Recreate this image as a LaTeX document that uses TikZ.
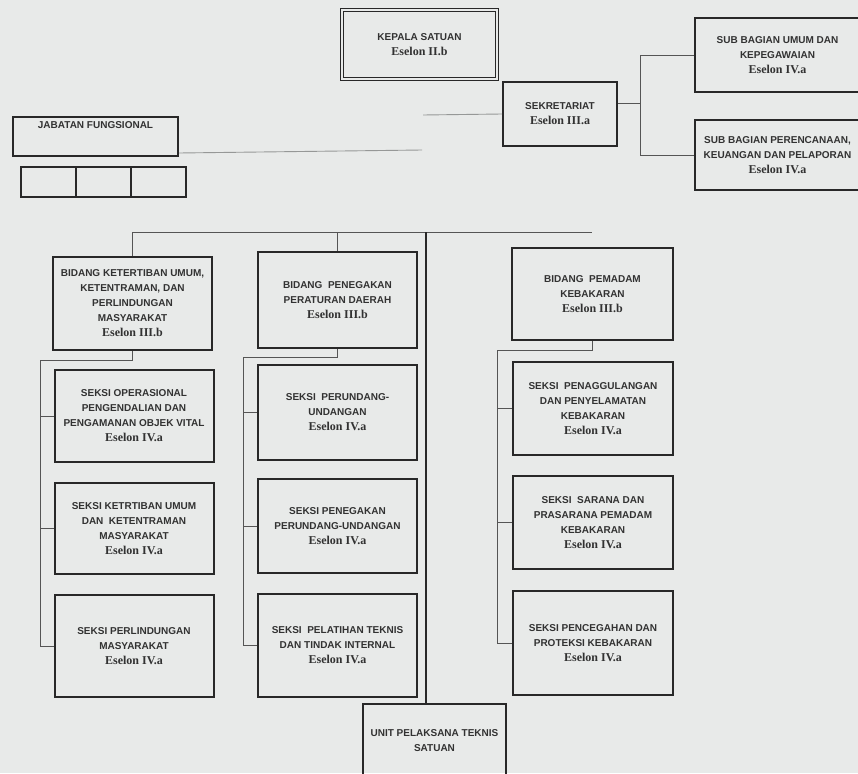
\documentclass[tikz,border=0pt]{standalone}
\usepackage{fontspec}
\setmainfont{Liberation Sans}
\newfontfamily\eselonfont{Liberation Serif}
\usetikzlibrary{positioning}
\definecolor{paper}{RGB}{232,234,233}
\definecolor{boxc}{RGB}{40,40,40}
\definecolor{txtc}{RGB}{50,50,50}
\definecolor{linec}{RGB}{85,85,85}
\definecolor{faintc}{RGB}{150,152,151}
\newcommand{\esl}[1]{{\eselonfont\fontsize{12}{15}\selectfont Eselon #1}}

\begin{document}
\begin{tikzpicture}[x=1pt,y=-1pt,
  box/.style={draw=boxc,line width=2pt,align=center,text=txtc,inner sep=2pt,font=\bfseries\fontsize{10}{15}\selectfont},
  seksi/.style={box,minimum width=159pt,minimum height=93pt},
  cell/.style={draw=boxc,line width=2pt,outer sep=0pt,minimum width=55pt,minimum height=30pt},
  link/.style={draw=linec,line width=0.9pt},
  faint/.style={draw=faintc,line width=0.9pt}]
\clip (0,0) rectangle (858,773);
\fill [paper] (0,0) rectangle (858,773);

% pimpinan dan sekretariat
\node [box,draw=boxc,double=paper,double distance=2pt,line width=1.2pt,minimum width=155pt,minimum height=69pt] (kepala) at (419.5,44.5) {KEPALA SATUAN\\\esl{II.b}};
\node [box,minimum width=114pt,minimum height=64pt] (sekr) at (560,114) {SEKRETARIAT\\\esl{III.a}};
\node [box,minimum width=165pt,minimum height=74pt] (subumum) at (777.5,55) {SUB BAGIAN UMUM DAN\\KEPEGAWAIAN\\\esl{IV.a}};
\node [box,minimum width=165pt,minimum height=70pt] (subren) at (777.5,155) {SUB BAGIAN PERENCANAAN,\\KEUANGAN DAN PELAPORAN\\\esl{IV.a}};

% jabatan fungsional
\node [box,minimum width=165pt,text height=7pt,text depth=22pt,inner ysep=5pt] (jabfung) at (95.5,136) {JABATAN FUNGSIONAL};
\node [cell] (jf1) at (48,182) {};
\node [cell,right=0pt of jf1] (jf2) {};
\node [cell,right=0pt of jf2] (jf3) {};

% bidang
\node [box,minimum width=159pt,minimum height=93pt] (bidtib) at (132.5,303.5) {BIDANG KETERTIBAN UMUM,\\KETENTRAMAN, DAN\\PERLINDUNGAN\\MASYARAKAT\\\esl{III.b}};
\node [box,minimum width=159pt,minimum height=96pt] (bidgak) at (337.5,300) {BIDANG\ \ PENEGAKAN\\PERATURAN DAERAH\\\esl{III.b}};
\node [box,minimum width=161pt,minimum height=92pt] (biddam) at (592.5,294) {BIDANG\ \ PEMADAM\\KEBAKARAN\\\esl{III.b}};

% seksi
\node [seksi,minimum height=92pt] (sop) at (134,416) {SEKSI OPERASIONAL\\PENGENDALIAN DAN\\PENGAMANAN OBJEK VITAL\\\esl{IV.a}};
\node [seksi,minimum height=91pt,below=19pt of sop] (stib) {SEKSI KETRTIBAN UMUM\\DAN\ \ KETENTRAMAN\\MASYARAKAT\\\esl{IV.a}};
\node [seksi,minimum height=102pt,below=19pt of stib] (slin) {SEKSI PERLINDUNGAN\\MASYARAKAT\\\esl{IV.a}};

\node [seksi,minimum height=95pt] (sperda) at (337.5,412.5) {SEKSI\ \ PERUNDANG-\\UNDANGAN\\\esl{IV.a}};
\node [seksi,minimum height=94pt,below=17pt of sperda] (sgak) {SEKSI PENEGAKAN\\PERUNDANG-UNDANGAN\\\esl{IV.a}};
\node [seksi,minimum height=103pt,below=19pt of sgak] (slat) {SEKSI\ \ PELATIHAN TEKNIS\\DAN TINDAK INTERNAL\\\esl{IV.a}};

\node [seksi,minimum width=160pt] (stang) at (593,408.5) {SEKSI\ \ PENAGGULANGAN\\DAN PENYELAMATAN\\KEBAKARAN\\\esl{IV.a}};
\node [seksi,minimum width=160pt,below=19pt of stang] (ssar) {SEKSI\ \ SARANA DAN\\PRASARANA PEMADAM\\KEBAKARAN\\\esl{IV.a}};
\node [seksi,minimum width=160pt,minimum height=104pt,below=20pt of ssar] (scegah) {SEKSI PENCEGAHAN DAN\\PROTEKSI KEBAKARAN\\\esl{IV.a}};

\node [box,minimum width=143pt,minimum height=74pt,anchor=north] (upt) at (434.5,703) {UNIT PELAKSANA TEKNIS\\SATUAN};

% garis
\coordinate (kt) at (423,115);
\coordinate (kj) at (422,150);
\draw [faint] (sekr.west) -- (kt);
\draw [faint] ([yshift=-17pt]jabfung.east) -- (kj);

\coordinate (br) at (640,103);
\draw [link] (sekr.east |- br) -- (br);
\draw [link] (subumum.west) -| (br) |- (subren.west);

\coordinate (barend) at (592,232);
\coordinate (tr) at (426,232);
\draw [link] (bidtib.north) |- (barend);
\draw [link] (bidgak.north) -- (bidgak.north |- barend);
\draw [draw=boxc,line width=1.1pt] (tr) -- (tr |- upt.north);

\coordinate (c1) at (40,360);
\draw [link] (bidtib.south) |- (c1) |- (slin.west);
\draw [link] (c1 |- sop.west) -- (sop.west);
\draw [link] (c1 |- stib.west) -- (stib.west);

\coordinate (c2) at (243,357);
\draw [link] (bidgak.south) |- (c2) |- (slat.west);
\draw [link] (c2 |- sperda.west) -- (sperda.west);
\draw [link] (c2 |- sgak.west) -- (sgak.west);

\coordinate (c3) at (497,350);
\draw [link] (biddam.south) |- (c3) |- (scegah.west);
\draw [link] (c3 |- stang.west) -- (stang.west);
\draw [link] (c3 |- ssar.west) -- (ssar.west);
\end{tikzpicture}
\end{document}
